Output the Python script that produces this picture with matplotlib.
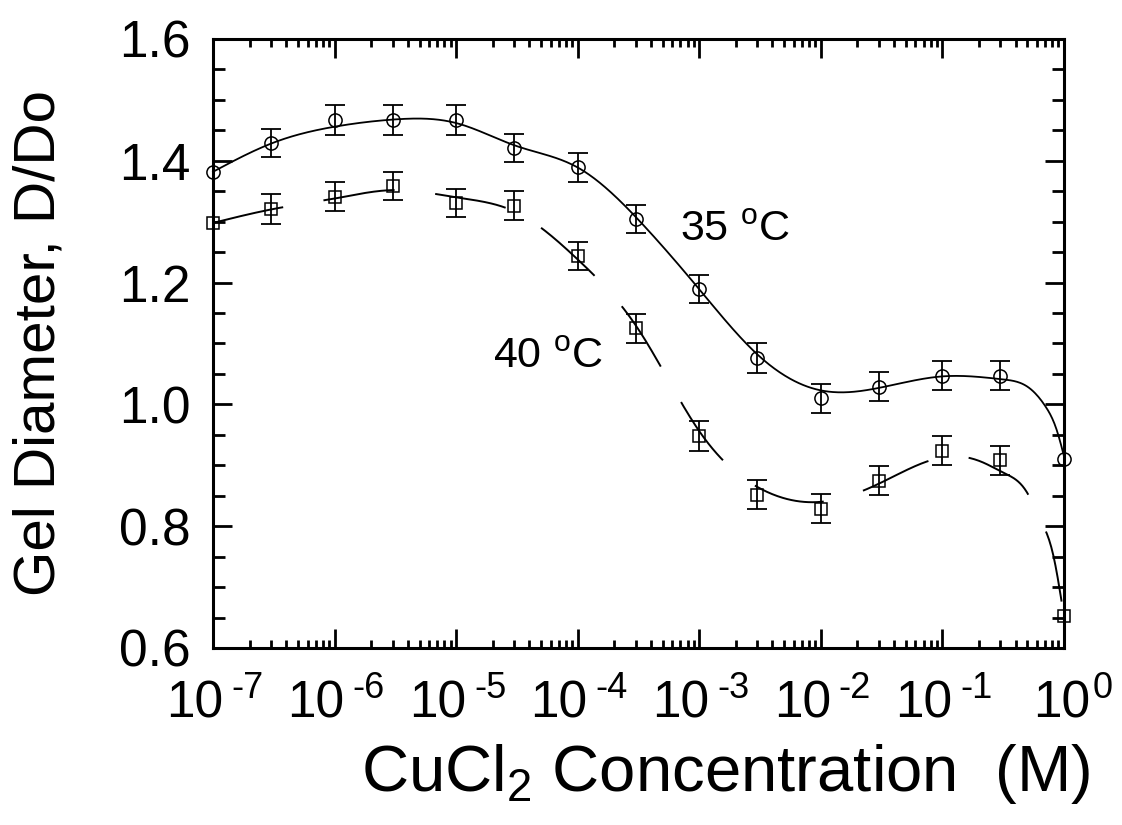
import numpy as np
import matplotlib
matplotlib.use("Agg")
import matplotlib.pyplot as plt
import matplotlib.transforms as mtrans
from matplotlib.ticker import MultipleLocator, NullFormatter, FixedLocator

SANS = ["Liberation Sans", "DejaVu Sans"]
plt.rcParams.update({"font.family": SANS, "mathtext.default": "regular"})

# measured points (CuCl2 concentration in M, gel diameter D/Do)
conc = [1e-7, 3e-7, 1e-6, 3e-6, 1e-5, 3e-5, 1e-4, 3e-4,
        1e-3, 3e-3, 1e-2, 3e-2, 1e-1, 3e-1, 1.0]
d35 = [1.382, 1.430, 1.467, 1.467, 1.467, 1.421, 1.389, 1.304,
       1.189, 1.076, 1.010, 1.029, 1.047, 1.047, 0.911]
err35 = [0, .023, .024, .024, .024, .023, .024, .023,
         .023, .025, .024, .024, .024, .024, 0]
d40 = [1.298, 1.321, 1.341, 1.359, 1.331, 1.326, 1.243, 1.125,
       0.948, 0.852, 0.829, 0.875, 0.924, 0.908, 0.652]
err40 = [0, .024, .024, .023, .023, .024, .023, .024,
         .024, .024, .024, .024, .024, .024, 0]

# guide curves (log10 concentration, D/Do)
fit35_logc = [-7.0, -6.5, -6.0, -5.5, -5.0, -4.5, -4.0, -3.5, -3.0,
              -2.5, -2.0, -1.5, -1.0, -0.5, -0.3, -0.15, -0.06, 0.0]
fit35 = [1.382, 1.430, 1.456, 1.468, 1.462, 1.424, 1.389, 1.303, 1.189,
         1.078, 1.023, 1.028, 1.046, 1.041, 1.029, 0.996, 0.958, 0.915]
fit40_logc = [-7.0, -6.5, -6.0, -5.5, -5.0, -4.5, -4.0, -3.5, -3.0,
              -2.5, -2.0, -1.5, -1.0, -0.8, -0.67, -0.49, -0.3, -0.2,
              -0.09, 0.0]
fit40 = [1.298, 1.321, 1.338, 1.352, 1.340, 1.315, 1.238, 1.123, 0.956,
         0.862, 0.840, 0.872, 0.913, 0.913, 0.905, 0.887, 0.854, 0.813,
         0.754, 0.651]

labels = ["35 $^{o}$C", "40 $^{o}$C"]
decades = [-7, -6, -5, -4, -3, -2, -1, 0]


def smooth(xk, yk, n=800):
    # natural cubic spline through the read-off knots
    xk = np.asarray(xk, float); yk = np.asarray(yk, float)
    m = len(xk); h = np.diff(xk)
    A = np.zeros((m, m)); r = np.zeros(m)
    A[0, 0] = A[-1, -1] = 1.0
    for i in range(1, m - 1):
        A[i, i-1], A[i, i], A[i, i+1] = h[i-1], 2 * (h[i-1] + h[i]), h[i]
        r[i] = 3 * ((yk[i+1] - yk[i]) / h[i] - (yk[i] - yk[i-1]) / h[i-1])
    c = np.linalg.solve(A, r)
    b = (yk[1:] - yk[:-1]) / h - h * (2 * c[:-1] + c[1:]) / 3
    d = (c[1:] - c[:-1]) / (3 * h)
    xs = np.linspace(xk[0], xk[-1], n)
    i = np.clip(np.searchsorted(xk, xs) - 1, 0, m - 2)
    t = xs - xk[i]
    ys = yk[i] + b[i] * t + c[i] * t**2 + d[i] * t**3
    return 10.0**xs, ys


fig = plt.figure(figsize=(11.22, 8.25), dpi=100)
ax = fig.add_axes([213/1122, 1 - 648/825, 851/1122, 609/825])
ax.set_xscale("log")
ax.set_xlim(1e-7, 1.0)
ax.set_ylim(0.6, 1.6)

x = np.array(conc)
for y, e, mk, ms in [(d35, err35, "o", 9.5), (d40, err40, "s", 8.5)]:
    y = np.array(y); e = np.array(e); m = e > 0
    ax.errorbar(x[m], y[m], yerr=e[m], fmt="none", ecolor="black",
                elinewidth=1.3, capsize=7, capthick=1.3, zorder=3)
    ax.plot(x, y, mk, ms=ms, mfc="none", mec="black", mew=1.1, zorder=4,
            clip_on=False)

cx, cy = smooth(fit35_logc, fit35)
ax.plot(cx, cy, color="black", lw=1.3, zorder=2, clip_on=False)
cx, cy = smooth(fit40_logc, fit40)
ax.plot(cx, cy, color="black", lw=1.4, ls=(0, (37, 21)), zorder=2,
        clip_on=False)

ax.text(10**-3.16, 1.268, labels[0], fontsize=31, ha="left", va="baseline")
ax.text(10**-4.70, 1.060, labels[1], fontsize=31, ha="left", va="baseline")

# axes frame & ticks
for s in ax.spines.values():
    s.set_linewidth(2.2)
ax.xaxis.set_major_locator(FixedLocator([10.0**k for k in decades]))
ax.xaxis.set_major_formatter(NullFormatter())
ax.xaxis.set_minor_formatter(NullFormatter())
ax.yaxis.set_major_locator(MultipleLocator(0.2))
ax.yaxis.set_minor_locator(MultipleLocator(0.05))
ax.yaxis.set_major_formatter(plt.FuncFormatter(lambda v, p: f"{v:.1f}"))
ax.tick_params(which="both", direction="in", top=True, right=True, width=2.0)
ax.tick_params(axis="x", which="major", length=14)
ax.tick_params(axis="x", which="minor", length=6)
ax.tick_params(axis="y", which="major", length=14, pad=16, labelsize=37)
ax.tick_params(axis="y", which="minor", length=8.5)

# x tick labels as 10 + raised exponent
tr = mtrans.blended_transform_factory(ax.transData, ax.transAxes)
px = 0.72  # points per pixel at 100 dpi
for k in decades:
    dx10, dxe = (26, 29) if k == 0 else (10, 18)
    ax.text(10.0**k, 0, "10", fontsize=37, ha="right", va="top",
            transform=mtrans.offset_copy(tr, fig, x=dx10 * px, y=-31 * px,
                                         units="points"))
    ax.text(10.0**k, 0, f"-{-k}" if k else "0", fontsize=26,
            ha="left", va="top",
            transform=mtrans.offset_copy(tr, fig, x=dxe * px, y=-23 * px,
                                         units="points"))

ax.set_xlabel("CuCl$_{2}$ Concentration  (M)", fontsize=47)
ax.xaxis.set_label_coords(0.602, -0.155)
ax.set_ylabel("Gel Diameter, D/Do", fontsize=42)
ax.yaxis.set_label_coords(-0.172, 0.5)

fig.savefig("out.png", dpi=100)
